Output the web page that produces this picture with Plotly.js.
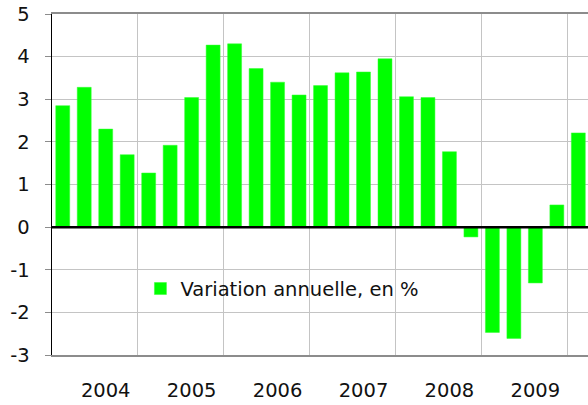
<!DOCTYPE html>
<html>
<head>
<meta charset="utf-8">
<script src="https://cdn.plot.ly/plotly-3.0.1.min.js"></script>
<style>html,body{margin:0;padding:0;background:#fff;}#chart{width:588px;height:405px;}</style>
</head>
<body>
<div id="chart"></div>
<script>
// Quarterly index (0 = 2004 T1 ... 24 = 2010 T1)
var quarters = [0,1,2,3,4,5,6,7,8,9,10,11,12,13,14,15,16,17,18,19,20,21,22,23,24];
var variation = [2.85,3.28,2.30,1.70,1.27,1.92,3.04,4.27,4.30,3.72,3.40,3.10,3.32,3.62,3.64,3.95,3.06,3.04,1.77,-0.23,-2.47,-2.61,-1.31,0.52,2.21];
var yearTickPos = [2,6,10,14,18,22];
var yearLabels = ["2004","2005","2006","2007","2008","2009"];
var yearBoundaries = [3.5,7.5,11.5,15.5,19.5,23.5];
var yTickVals = [-3,-2,-1,0,1,2,3,4,5];
var yTickLabels = ["-3","-2","-1","0","1","2","3","4","5"];
var seriesName = "Variation annuelle, en %";

var font = {family: "DejaVu Sans, Verdana, sans-serif", size: 19.5, color: "#111"};

var trace = {
  type: "bar",
  x: quarters,
  y: variation,
  name: seriesName,
  marker: {color: "#00ff00", line: {color: "#33ff33", width: 0.5}},
  showlegend: true,
  hoverinfo: "x+y"
};

var layout = {
  width: 588, height: 405,
  margin: {l: 52, r: 0, t: 14, b: 50, pad: 0},
  paper_bgcolor: "#fff", plot_bgcolor: "#fff",
  font: font,
  bargap: 0.35,
  showlegend: true,
  legend: {
    x: 0.165, y: 0.194, xanchor: "left", yanchor: "middle",
    bgcolor: "rgba(255,255,255,0)", borderwidth: 0,
    font: font, itemwidth: 30
  },
  xaxis: {
    range: [-0.5, 24.45],
    tickmode: "array", tickvals: yearTickPos, ticktext: yearLabels,
    ticks: "", showgrid: false, zeroline: false,
    showline: true, linecolor: "#8c8c8c", linewidth: 2, mirror: true,
    ticklabelstandoff: 17,
    minor: {tickmode: "array", tickvals: yearBoundaries, showgrid: true, gridcolor: "#c4c4c4", gridwidth: 1, ticks: ""},
    fixedrange: true
  },
  yaxis: {
    range: [-3, 5],
    tickmode: "array", tickvals: yTickVals, ticktext: yTickLabels,
    showgrid: true, gridcolor: "#c4c4c4", gridwidth: 1,
    zeroline: false,
    showline: true, linecolor: "#000", linewidth: 1.5,
    ticks: "outside", ticklen: 6, tickcolor: "#8c8c8c", tickwidth: 1,
    ticklabelstandoff: 11,
    fixedrange: true
  },
  shapes: [{
    type: "rect", xref: "paper", yref: "paper", layer: "between",
    x0: 0.172, x1: 0.705, y0: 0.129, y1: 0.255,
    fillcolor: "#fff", line: {width: 0}
  }, {
    type: "line", xref: "paper", yref: "y", layer: "above",
    x0: 0, x1: 1, y0: 0, y1: 0,
    line: {color: "#000", width: 2.5}
  }]
};

Plotly.newPlot("chart", [trace], layout, {displayModeBar: false, staticPlot: true});
</script>
</body>
</html>
